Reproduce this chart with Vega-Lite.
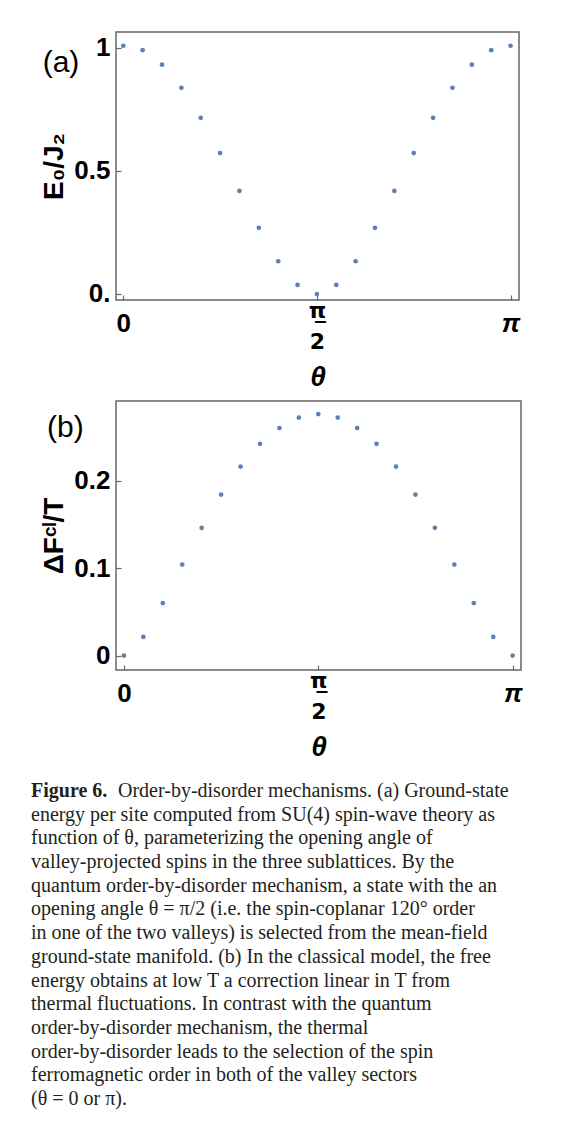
{
  "$schema": "https://vega.github.io/schema/vega-lite/v6.json",
  "background": "white",
  "padding": {"left": 31, "top": 31, "right": 5, "bottom": 5},
  "spacing": 8,
  "datasets": {
    "a": [
      {"theta": 0, "E": 1.009}, {"theta": 0.15708, "E": 0.991}, {"theta": 0.31416, "E": 0.932},
      {"theta": 0.47124, "E": 0.838}, {"theta": 0.62832, "E": 0.716}, {"theta": 0.7854, "E": 0.573},
      {"theta": 0.94248, "E": 0.419}, {"theta": 1.09956, "E": 0.269}, {"theta": 1.25664, "E": 0.133},
      {"theta": 1.41372, "E": 0.037}, {"theta": 1.5708, "E": 0.0}, {"theta": 1.72788, "E": 0.037},
      {"theta": 1.88496, "E": 0.133}, {"theta": 2.04204, "E": 0.269}, {"theta": 2.19911, "E": 0.419},
      {"theta": 2.35619, "E": 0.573}, {"theta": 2.51327, "E": 0.716}, {"theta": 2.67035, "E": 0.838},
      {"theta": 2.82743, "E": 0.932}, {"theta": 2.98451, "E": 0.991}, {"theta": 3.14159, "E": 1.009}
    ],
    "b": [
      {"theta": 0, "F": 0.0}, {"theta": 0.15708, "F": 0.0213}, {"theta": 0.31416, "F": 0.060},
      {"theta": 0.47124, "F": 0.104}, {"theta": 0.62832, "F": 0.146}, {"theta": 0.7854, "F": 0.184},
      {"theta": 0.94248, "F": 0.216}, {"theta": 1.09956, "F": 0.242}, {"theta": 1.25664, "F": 0.260},
      {"theta": 1.41372, "F": 0.272}, {"theta": 1.5708, "F": 0.276}, {"theta": 1.72788, "F": 0.272},
      {"theta": 1.88496, "F": 0.260}, {"theta": 2.04204, "F": 0.242}, {"theta": 2.19911, "F": 0.216},
      {"theta": 2.35619, "F": 0.184}, {"theta": 2.51327, "F": 0.146}, {"theta": 2.67035, "F": 0.104},
      {"theta": 2.82743, "F": 0.060}, {"theta": 2.98451, "F": 0.0213}, {"theta": 3.14159, "F": 0.0}
    ],
    "caption": [
      {"line": 1, "text": "Order-by-disorder mechanisms. (a) Ground-state"},
      {"line": 2, "text": "energy per site computed from SU(4) spin-wave theory as"},
      {"line": 3, "text": "function of θ, parameterizing the opening angle of"},
      {"line": 4, "text": "valley-projected spins in the three sublattices. By the"},
      {"line": 5, "text": "quantum order-by-disorder mechanism, a state with the an"},
      {"line": 6, "text": "opening angle θ = π/2 (i.e. the spin-coplanar 120° order"},
      {"line": 7, "text": "in one of the two valleys) is selected from the mean-field"},
      {"line": 8, "text": "ground-state manifold. (b) In the classical model, the free"},
      {"line": 9, "text": "energy obtains at low T a correction linear in T from"},
      {"line": 10, "text": "thermal fluctuations. In contrast with the quantum"},
      {"line": 11, "text": "order-by-disorder mechanism, the thermal"},
      {"line": 12, "text": "order-by-disorder leads to the selection of the spin"},
      {"line": 13, "text": "ferromagnetic order in both of the valley sectors"},
      {"line": 14, "text": "(θ = 0 or π)."}
    ]
  },
  "config": {
    "view": {"stroke": "#666666", "strokeWidth": 1.5},
    "axis": {
      "domain": false, "grid": false,
      "tickColor": "#666666", "tickSize": -5, "tickWidth": 1.2,
      "labelFont": "Liberation Sans", "labelFontWeight": "bold", "labelFontSize": 26, "labelColor": "black",
      "titleFont": "Liberation Sans", "titleFontWeight": "bold", "titleFontSize": 28, "titleColor": "black"
    },
    "axisX": {
      "labelFont": {"condition": {"test": "datum.value > 1 && datum.value < 2", "value": "DejaVu Sans"}, "value": "Liberation Sans"},
      "labelFontSize": {"condition": {"test": "datum.value > 1 && datum.value < 2", "value": 22}, "value": 26},
      "labelFontStyle": {"condition": {"test": "datum.value > 3", "value": "italic"}, "value": "normal"},
      "labelBaseline": {"condition": {"test": "datum.value > 1 && datum.value < 2", "value": "middle"}, "value": "top"},
      "labelLineHeight": 31, "labelPadding": 15, "labelFlush": false,
      "titleFontStyle": "italic", "titlePadding": 11
    },
    "axisY": {"labelPadding": 11, "titlePadding": 5}
  },
  "vconcat": [
    {
      "width": 403, "height": 268,
      "layer": [
        {
          "data": {"name": "a"},
          "mark": {"type": "point", "filled": true, "size": 22, "color": "#5e81b5", "opacity": 1},
          "encoding": {
            "x": {"field": "theta", "type": "quantitative", "scale": {"domain": [-0.059, 3.21], "nice": false, "zero": false},
              "axis": {"title": "θ", "values": [0, 1.5708, 3.14159], "labelExpr": "datum.value < 0.5 ? '0' : datum.value < 2 ? ['π̲', '2'] : 'π'"}},
            "y": {"field": "E", "type": "quantitative", "scale": {"domain": [-0.0244, 1.065], "nice": false, "zero": false},
              "axis": {"values": [0, 0.5, 1], "labelExpr": "datum.value == 0 ? '0.' : datum.value == 1 ? '1' : '0.5'", "title": "E₀/J₂"}}
          }
        },
        {
          "data": {"values": [{}]},
          "mark": {"type": "text", "font": "Liberation Sans", "fontSize": 30, "fontWeight": "normal", "color": "black", "align": "center", "baseline": "middle"},
          "encoding": {
            "x": {"datum": -0.505, "type": "quantitative"},
            "y": {"datum": 0.939, "type": "quantitative"},
            "text": {"value": "(a)"}
          }
        }
      ]
    },
    {
      "width": 405, "height": 269,
      "layer": [
        {
          "data": {"name": "b"},
          "mark": {"type": "point", "filled": true, "size": 22, "color": "#5e81b5", "opacity": 1},
          "encoding": {
            "x": {"field": "theta", "type": "quantitative", "scale": {"domain": [-0.064, 3.209], "nice": false, "zero": false},
              "axis": {"title": "θ", "values": [0, 1.5708, 3.14159], "labelExpr": "datum.value < 0.5 ? '0' : datum.value < 2 ? ['π̲', '2'] : 'π'"}},
            "y": {"field": "F", "type": "quantitative", "scale": {"domain": [-0.0165, 0.291], "nice": false, "zero": false},
              "axis": {"values": [0, 0.1, 0.2], "labelExpr": "datum.value < 0.05 ? '0' : datum.value < 0.15 ? '0.1' : '0.2'", "title": "ΔFᶜˡ/T"}}
          }
        },
        {
          "data": {"values": [{}]},
          "mark": {"type": "text", "font": "Liberation Sans", "fontSize": 30, "fontWeight": "normal", "color": "black", "align": "center", "baseline": "middle"},
          "encoding": {
            "x": {"datum": -0.473, "type": "quantitative"},
            "y": {"datum": 0.26, "type": "quantitative"},
            "text": {"value": "(b)"}
          }
        }
      ]
    },
    {
      "width": 400, "height": 341,
      "view": {"stroke": null},
      "data": {"name": "caption"},
      "encoding": {
        "x": {"datum": 0, "type": "quantitative", "scale": {"domain": [0, 1]}, "axis": null},
        "y": {"field": "line", "type": "quantitative", "scale": {"domain": [0.12, 14.5], "reverse": true}, "axis": null}
      },
      "layer": [
        {
          "transform": [{"filter": "datum.line == 1"}],
          "mark": {"type": "text", "font": "Liberation Serif", "fontSize": 20, "fontWeight": "bold", "color": "#231f20", "align": "left", "baseline": "middle", "dx": -85},
          "encoding": {"text": {"value": "Figure 6."}}
        },
        {
          "transform": [{"filter": "datum.line == 1"}],
          "mark": {"type": "text", "font": "Liberation Serif", "fontSize": 20, "color": "#231f20", "align": "left", "baseline": "middle", "dx": 2},
          "encoding": {"text": {"field": "text"}}
        },
        {
          "transform": [{"filter": "datum.line > 1"}],
          "mark": {"type": "text", "font": "Liberation Serif", "fontSize": 20, "color": "#231f20", "align": "left", "baseline": "middle", "dx": -85},
          "encoding": {"text": {"field": "text"}}
        }
      ]
    }
  ]
}
